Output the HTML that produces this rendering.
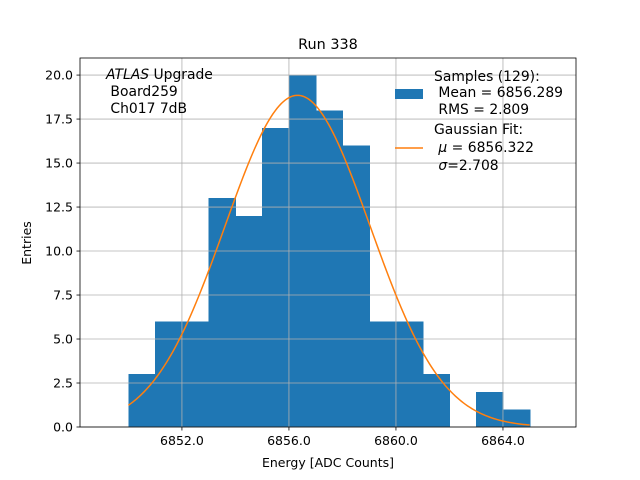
<!DOCTYPE html>
<html><head><meta charset="utf-8"><style>
body{margin:0;background:#fff}
svg{display:block;font-family:"DejaVu Sans","Liberation Sans",sans-serif}
</style></head><body>
<svg id="c" width="640" height="480" viewBox="0 0 640 480">
<rect width="640" height="480" fill="#fff"/>
<text x="328" y="49" font-size="14.4" text-anchor="middle">Run 338</text>
<g id="bars" shape-rendering="crispEdges"></g>
<g id="grid"></g>
<path id="fit" fill="none" stroke="#ff7f0e" stroke-width="1.5"/>
<rect x="80" y="58" width="496" height="369" fill="none" stroke="#000" stroke-width="0.8"/>
<g id="ticks" font-size="12.5"></g>
<text x="328" y="467" font-size="12.5" text-anchor="middle">Energy [ADC Counts]</text>
<text transform="translate(31,243) rotate(-90)" font-size="12.5" text-anchor="middle">Entries</text>
<g font-size="13.9">
<text x="106" y="79"><tspan font-style="italic">ATLAS</tspan> Upgrade</text>
<text x="106" y="96" xml:space="preserve"> Board259</text>
<text x="106" y="113" xml:space="preserve"> Ch017 7dB</text>
</g>
<g font-size="13.9">
<rect x="395" y="89" width="28" height="10" fill="#1f77b4"/>
<text x="434" y="81">Samples (129):</text>
<text x="434" y="97" xml:space="preserve"> Mean = 6856.289</text>
<text x="434" y="114" xml:space="preserve"> RMS = 2.809</text>
<line x1="395" y1="148" x2="423" y2="148" stroke="#ff7f0e" stroke-width="1.5"/>
<text x="434" y="134">Gaussian Fit:</text>
<text x="434" y="152" xml:space="preserve"> <tspan font-style="italic">μ</tspan> = 6856.322</text>
<text x="434" y="170" xml:space="preserve"> <tspan font-style="italic">σ</tspan>=2.708</text>
</g>
</svg>
<script>
const binStarts=[6850,6851,6852,6853,6854,6855,6856,6857,6858,6859,6860,6861,6862,6863,6864];
const counts=[3,6,6,13,12,17,20,18,16,6,6,3,0,2,1];
const xTicks=[6852,6856,6860,6864];
const yTicks=[0,2.5,5,7.5,10,12.5,15,17.5,20];
const fitMu=6856.322, fitSigma=2.708, fitAmp=18.85, fitRange=[6850,6865];
const X0=6848.19,X1=6866.73,Y1=20.97;
const L=80,R=576,T=58,B=427;
const sx=v=>L+(v-X0)/(X1-X0)*(R-L);
const sy=v=>B-v/Y1*(B-T);
const NS='http://www.w3.org/2000/svg';
function mk(t,a,p){const e=document.createElementNS(NS,t);for(const k in a)e.setAttribute(k,a[k]);p.appendChild(e);return e;}
const bars=document.getElementById('bars');
binStarts.forEach((b,i)=>{if(!counts[i])return;
 const r=mk('rect',{x:sx(b),y:sy(counts[i]),width:sx(b+1)-sx(b)+0.6,height:B-sy(counts[i]),fill:'#1f77b4'},bars);
 
 });
const grid=document.getElementById('grid'),ticks=document.getElementById('ticks');
xTicks.forEach(v=>{const x=sx(v);
 mk('line',{x1:x,y1:T,x2:x,y2:B,stroke:'#b0b0b0','stroke-width':0.8},grid);
 mk('line',{x1:x,y1:B,x2:x,y2:B+3.5,stroke:'#000','stroke-width':0.8},ticks);
 const t=mk('text',{x:x,y:B+18,'text-anchor':'middle'},ticks);t.textContent=v.toFixed(1);
 
 });
yTicks.forEach(v=>{const y=sy(v);
 mk('line',{x1:L,y1:y,x2:R,y2:y,stroke:'#b0b0b0','stroke-width':0.8},grid);
 mk('line',{x1:L-3.5,y1:y,x2:L,y2:y,stroke:'#000','stroke-width':0.8},ticks);
 const t=mk('text',{x:L-7,y:y+4.5,'text-anchor':'end'},ticks);t.textContent=v.toFixed(1);
 
 });
let d='';for(let i=0;i<=200;i++){const v=fitRange[0]+(fitRange[1]-fitRange[0])*i/200;
 const f=fitAmp*Math.exp(-((v-fitMu)**2)/(2*fitSigma*fitSigma));
 d+=(i?'L':'M')+sx(v).toFixed(2)+','+sy(f).toFixed(2);}
document.getElementById('fit').setAttribute('d',d);
</script>
</body></html>
